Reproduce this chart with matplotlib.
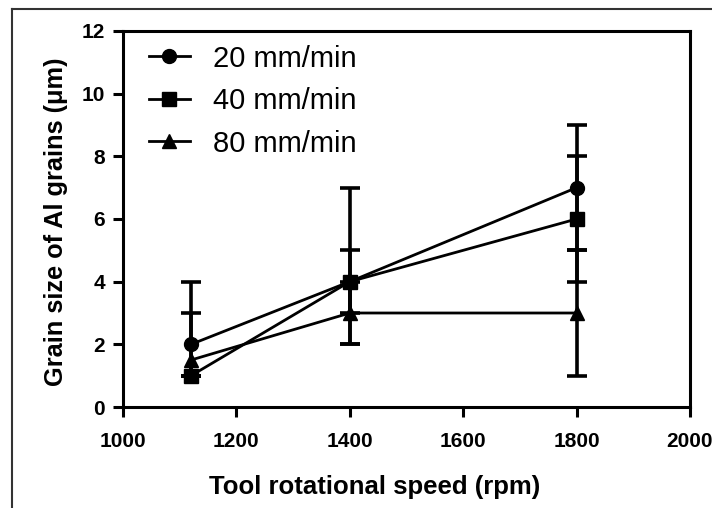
import numpy as np
import matplotlib
matplotlib.use('Agg')
import matplotlib.pyplot as plt
from matplotlib.lines import Line2D

plt.rcParams['font.family'] = ['Liberation Sans', 'DejaVu Sans']

speed = [1120, 1400, 1800]
labels = ['20 mm/min', '40 mm/min', '80 mm/min']
markers = ['o', 's', '^']

grain_20 = [2.0, 4.0, 7.0]
grain_40 = [1.0, 4.0, 6.0]
grain_80 = [1.5, 3.0, 3.0]

# asymmetric errors (lower, upper)
err_20 = [[1.0, 2.0, 2.0], [2.0, 3.0, 2.0]]
err_40 = [[0.0, 1.0, 2.0], [0.0, 1.0, 2.0]]
err_80 = [[0.5, 1.0, 2.0], [1.5, 1.0, 2.0]]

series = [grain_20, grain_40, grain_80]
errors = [err_20, err_40, err_80]

fig = plt.figure(figsize=(7.12, 5.08), dpi=100)
ax = fig.add_axes([0.1728, 0.1988, 0.7962, 0.7402])

for vals, err, mk, lab in zip(series, errors, markers, labels):
    ax.errorbar(speed, vals, yerr=np.array(err), fmt='none', ecolor='black',
                elinewidth=2.6, capsize=7, capthick=2.6, zorder=2)
    ax.plot(speed, vals, color='black', lw=2.0, marker=mk, markersize=10,
            label=lab, zorder=3)

ax.set_xlim(1000, 2000)
ax.set_ylim(0, 12)
ax.set_xticks(range(1000, 2001, 200))
ax.set_yticks(range(0, 13, 2))
for s in ax.spines.values():
    s.set_linewidth(2.2)
ax.tick_params(direction='out', length=7, width=2.2, labelsize=15, pad=6)
ax.tick_params(axis='x', pad=11)
for t in ax.get_xticklabels() + ax.get_yticklabels():
    t.set_fontweight('bold')

ax.set_xlabel('Tool rotational speed (rpm)', fontsize=18.5, fontweight='bold',
              labelpad=17, x=0.443)
ax.set_ylabel('Grain size of Al grains (\u03bcm)', fontsize=18.3, fontweight='bold',
              labelpad=10, y=0.493)

handles = [Line2D([], [], color='black', lw=2.0, marker=m, markersize=10) for m in markers]
ax.legend(handles, labels, loc='upper left', frameon=False, fontsize=21,
          handlelength=1.4, handletextpad=0.8, labelspacing=0.5,
          borderaxespad=0.0, bbox_to_anchor=(0.025, 0.995))

# outer frame of the original figure (only top and left survive the crop)
fig.add_artist(Line2D([0.0169, 1.0], [0.982, 0.982], color='#333333', lw=1.5))
fig.add_artist(Line2D([0.0169, 0.0169], [0.0, 0.982], color='#333333', lw=1.5))

fig.savefig('out.png', dpi=100)
